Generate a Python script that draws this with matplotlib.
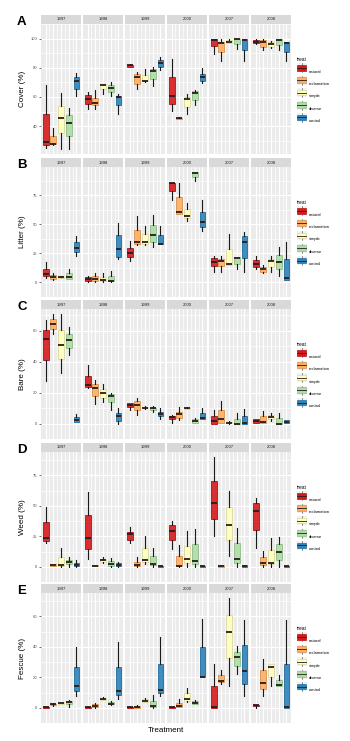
import matplotlib.pyplot as plt
from matplotlib.patches import Patch, Rectangle
from matplotlib.lines import Line2D
from matplotlib.legend_handler import HandlerBase
from matplotlib.colors import to_rgb
import numpy as np

plt.rcParams['font.family'] = ['Liberation Sans', 'DejaVu Sans']

years = ['1997', '1998', '1999', '2000', '2007', '2008']
treats = ['natural', 'reclamation', 'simple', 'diverse', 'control']
colors = ['#d7191c', '#fdae61', '#ffffbf', '#abdda4', '#2b83ba']

# each year: five treatments, each [whisker low, q1, median, q3, whisker high]
cover = [
    [[25, 27, 29, 48, 68], [27, 27.5, 28, 33, 38.5], [24.7, 35, 45.5, 54, 63], [24.7, 33.6, 42.3, 47.4, 52.7], [60.8, 65.7, 71, 74, 76.3]],
    [[52, 55.5, 58.9, 61.4, 63.5], [52, 54.2, 56, 59.5, 65], [62.3, 65.4, 68.2, 68.8, 68.8], [60.8, 63.5, 66.3, 68, 70], [48, 54.2, 59.7, 61, 62.3]],
    [[80.3, 80.8, 81.6, 82.2, 82.6], [65.4, 68.8, 73.5, 75.6, 77.3], [70.3, 70.7, 70.7, 74.8, 79.2], [67.8, 72.4, 77.5, 79.2, 80.3], [78.2, 80.5, 83, 85.2, 87.3]],
    [[50.2, 55.5, 60.8, 73.5, 86.2], [44.8, 45, 45.3, 45.7, 46], [48, 53.4, 58.7, 59.7, 61.8], [54.4, 58.2, 62.9, 64, 65], [69.3, 70.7, 73.5, 76, 79.9]],
    [[89.4, 94.7, 99, 100, 100], [84.5, 90.5, 96.8, 97.9, 100], [96.8, 97.2, 98, 99, 99.6], [93.2, 96.4, 99.4, 100, 100], [84.5, 92, 98.7, 99.4, 100]],
    [[96.6, 97, 98, 99, 99.4], [92, 94.5, 97.9, 98.7, 100], [93.6, 94.5, 96.2, 97.7, 98.5], [92, 95.8, 99.2, 99.8, 100], [84.5, 90.9, 97, 97.9, 97.9]],
]

litter = [
    [[4, 5.4, 7.3, 12, 17.3], [2, 3.3, 4.9, 6.2, 8], [3.6, 3.8, 4.5, 4.9, 5.2], [2.8, 3.3, 4.6, 8, 12], [23.1, 26.6, 29.8, 34.5, 39.8]],
    [[0.5, 1.5, 3.3, 4.6, 6], [0.5, 1.5, 3, 5.4, 8], [0.3, 1, 2, 4.9, 8], [0, 1, 1.5, 6, 9.9], [20, 22, 29.2, 40.6, 51.2]],
    [[18.7, 22, 25.3, 30, 35.8], [32.4, 33.2, 34.5, 45.6, 57], [31.9, 33.2, 34.5, 41.7, 49], [31, 35.3, 40.6, 49.6, 58.3], [33.2, 33.2, 33.2, 41, 48.5]],
    [[71, 79, 86.1, 86.1, 86.1], [59.1, 59.1, 61, 73.4, 86.1], [53, 55.7, 57, 63.4, 68.9], [87.4, 90.9, 94.6, 94.8, 94.8], [44.3, 47.8, 52.2, 61, 70.8]],
    [[9.4, 14.2, 17.9, 20.8, 22.6], [9.4, 13.9, 18.4, 20.5, 22.6], [15.5, 15.5, 16, 29, 42], [11.5, 16, 21.3, 21.8, 21.8], [9.4, 21.3, 35.3, 39.8, 43.8]],
    [[11.5, 13.4, 16, 19.4, 22.6], [8.6, 9.4, 12, 13.4, 15.2], [9.4, 13.4, 18.7, 20, 22.6], [5.4, 11.5, 17.3, 24, 30.6], [2, 2.5, 3.5, 20, 35.3]],
]

bare = [
    [[27.2, 40.8, 54.3, 60.6, 66.6], [57.5, 61, 64, 67.4, 70.4], [32.8, 41.9, 50.9, 60.6, 70.4], [44.3, 48.9, 53.9, 58, 62.6], [1.2, 1.2, 2, 4, 6]],
    [[22.7, 23.3, 24.7, 30.8, 37.8], [12.7, 17.7, 22.9, 25.4, 27.8], [14.1, 16.7, 19.7, 22.5, 25.4], [8.7, 13.7, 17.7, 19.1, 19.7], [0, 1.6, 4.6, 6.6, 9.7]],
    [[9, 10.7, 12, 13, 13.3], [5.6, 8.7, 12, 14.3, 16.7], [9.5, 9.7, 10.3, 10.9, 11.2], [7.6, 8.7, 9.7, 10.3, 11], [2.6, 4.6, 6, 7.6, 9.7]],
    [[0.6, 3, 4.2, 5, 5.2], [2, 3.6, 6, 7.6, 10.7], [9.2, 9.3, 9.7, 10.3, 10.5], [0.6, 0.6, 1.6, 2.6, 3.6], [3.2, 3.2, 3.6, 6.6, 9.7]],
    [[0, 0, 1.6, 4.6, 8.7], [0.6, 0.6, 3.2, 8.7, 14.7], [0, 0.2, 0.6, 1.2, 1.4], [0, 0, 0, 3.2, 6.6], [0, 0, 0.6, 5, 9.3]],
    [[0.6, 0.6, 1.6, 2.6, 3.2], [0.6, 0.6, 1.2, 4.6, 8], [1.6, 2.6, 4, 5.2, 6.6], [0, 0, 0, 3.6, 6.6], [0.6, 0.6, 1.2, 2, 2]],
]

weed = [
    [[19.7, 21.3, 23.8, 36.5, 48.9], [0.8, 0.8, 1.5, 2.3, 2.5], [0, 1, 1.5, 8.4, 15.4], [0, 2, 4, 5.8, 7.8], [0, 0.3, 1.5, 2.8, 5.3]],
    [[6.6, 14.2, 23.8, 42.8, 61], [0.3, 0.3, 1, 1.5, 1.5], [2.8, 3.5, 5.3, 6.6, 8.4], [0, 1, 2, 4.6, 7.3], [0, 0.3, 1.5, 2.8, 4]],
    [[19.2, 22.3, 26.8, 28.9, 32.4], [0, 0.8, 1.5, 4, 7.8], [2, 3.5, 5.3, 15.4, 25.6], [0, 1.5, 2.3, 8.6, 15.4], [0, 0, 0.3, 0.8, 0.8]],
    [[14.7, 22.3, 29.4, 34, 37.5], [0, 0.3, 0.5, 9.1, 18], [0, 2.8, 6, 17.2, 29.4], [0, 2.3, 5, 18.5, 30.6], [0, 0, 0.3, 0.6, 0.6]],
    [[25.6, 39, 52.2, 70.6, 89.6], [0, 0, 0.8, 1.3, 1.3], [8.6, 21.8, 34.4, 48.9, 62.3], [0, 2.8, 6.6, 19.2, 31.9], [0, 0, 0.6, 1.3, 1.3]],
    [[15.4, 30.1, 45.8, 52.2, 56.7], [0, 1.5, 2.8, 7.8, 12.9], [0, 2, 2.8, 13.7, 23.5], [0, 5.8, 12.4, 18.5, 24.3], [0, 0, 0.6, 1, 1]],
]

fescue = [
    [[0, 0, 0.2, 0.4, 0.4], [1.2, 1.6, 2.2, 2.6, 3], [2.2, 2.6, 3.3, 3.9, 4.1], [0.6, 2.2, 3.9, 4.7, 5.3], [7.7, 10.8, 14.4, 27, 39.8]],
    [[0, 0, 0.2, 0.4, 0.4], [0, 0.2, 1, 2.2, 3], [5.1, 5.1, 5.9, 6.7, 7.1], [2, 2.2, 2.6, 3.7, 4.3], [5.7, 8.3, 11.2, 27, 43.3]],
    [[0, 0, 0.2, 0.4, 0.4], [0, 0, 0.4, 1, 1.6], [3.7, 3.9, 4.7, 5.7, 6.7], [0, 0.6, 1.2, 4.7, 8.3], [7.7, 9.8, 11.8, 29, 46.3]],
    [[0, 0, 0.2, 0.4, 0.4], [0.6, 0.6, 1.2, 3.3, 5.7], [3.7, 4.7, 5.7, 9.8, 12.8], [2.2, 2.6, 3.3, 4.7, 5], [20.5, 20.5, 20.5, 39.6, 58.5]],
    [[0, 0, 0.2, 14.2, 28.5], [15.9, 16.9, 17.5, 21.5, 25], [14.4, 32.7, 50, 60.6, 71.7], [22, 27.6, 33.5, 36.6, 40.2], [7.7, 15.9, 23.8, 40.9, 57.5]],
    [[0, 1, 1.6, 2, 2], [7.7, 12.2, 16.5, 24.6, 32.1], [14.2, 20.3, 27, 28.5, 29], [14.2, 14.2, 15.2, 18.3, 21.5], [0, 0, 0.2, 29, 57.5]],
]

rows = [
    ('A', 'Cover (%)', cover, [40, 60, 80, 100]),
    ('B', 'Litter (%)', litter, [0, 25, 50, 75]),
    ('C', 'Bare (%)', bare, [0, 20, 40, 60]),
    ('D', 'Weed (%)', weed, [0, 25, 50, 75]),
    ('E', 'Fescue (%)', fescue, [0, 20, 40, 60]),
]

W, H = 350, 741
fig = plt.figure(figsize=(3.5, 7.41), dpi=100)


def px(x, y, w, h):
    return [x / W, 1 - (y + h) / H, w / W, h / H]


def darker(c, f=0.75):
    return tuple(v * f for v in to_rgb(c))


class BoxKey(HandlerBase):
    # ggplot style boxplot key: whisker, box, median
    def create_artists(self, legend, orig, xd, yd, width, height, fontsize, trans):
        cx = xd + width / 2
        bg = Rectangle((xd, yd - 1), width, height + 2, facecolor='#f2f2f2', edgecolor='none',
                       transform=trans)
        wh = Line2D([cx, cx], [yd - 1, yd + height + 1], color='#333333', lw=0.4, transform=trans)
        box = Rectangle((xd + 0.3, yd + height * 0.05), width - 0.6, height * 0.9,
                        facecolor=orig.get_facecolor(), edgecolor=orig.get_edgecolor(),
                        lw=0.5, transform=trans)
        med = Line2D([xd + 0.3, xd + width - 0.3], [yd + height / 2] * 2, color='#2a1a1a',
                     lw=0.6, transform=trans)
        return [bg, wh, box, med]


facet_x = [41, 83, 125, 167, 209, 251]
fw = 40
row_top = [24, 167, 309, 452, 593]
ph = 130
sh = 9

for r, (letter, label, data, ticks) in enumerate(rows):
    arr = np.array(data)
    lo, hi = arr.min(), arr.max()
    pad = 0.05 * (hi - lo)
    step = ticks[1] - ticks[0]
    minor = [t - step / 2 for t in ticks] + [ticks[-1] + step / 2]
    for j, yr in enumerate(years):
        ax = fig.add_axes(px(facet_x[j], row_top[r], fw, ph))
        ax.set_facecolor('#ebebeb')
        ax.set_axisbelow(True)
        for s in ax.spines.values():
            s.set_visible(False)
        stats = [dict(whislo=s[0], q1=s[1], med=s[2], q3=s[3], whishi=s[4], fliers=[])
                 for s in data[j]]
        bp = ax.bxp(stats, positions=range(1, 6), widths=0.75, patch_artist=True,
                    showcaps=False, showfliers=False,
                    whiskerprops=dict(color='#1a1a1a', lw=0.8),
                    medianprops=dict(color='#2a1a1a', lw=1.3, solid_capstyle='butt'))
        for patch, c in zip(bp['boxes'], colors):
            patch.set_facecolor(c)
            patch.set_edgecolor(darker(c, 0.85))
            patch.set_linewidth(0.7)
            patch.set_alpha(0.9)
        ax.set_xlim(0.4, 5.6)
        ax.set_ylim(lo - pad, hi + pad)
        ax.set_yticks(ticks)
        ax.set_yticks(minor, minor=True)
        ax.set_xticks(range(1, 6))
        ax.set_xticks(np.arange(1.5, 5, 1), minor=True)
        ax.grid(which='major', color='white', lw=0.8)
        ax.grid(which='minor', color='white', lw=0.5)
        ax.tick_params(axis='x', which='both', length=0, labelbottom=False)
        if j == 0:
            ax.tick_params(axis='y', which='major', length=1.5, width=0.5, color='#333333',
                           labelsize=3, labelcolor='#4d4d4d', pad=1)
            ax.tick_params(axis='y', which='minor', length=0)
        else:
            ax.tick_params(axis='y', which='both', length=0, labelleft=False)

        sax = fig.add_axes(px(facet_x[j], row_top[r] - sh, fw, sh))
        sax.set_facecolor('#d9d9d9')
        sax.set_xticks([])
        sax.set_yticks([])
        for s in sax.spines.values():
            s.set_visible(False)
        sax.text(0.5, 0.5, yr, ha='center', va='center', fontsize=3, color='#1a1a1a',
                 transform=sax.transAxes)

    yc = row_top[r] + ph / 2
    fig.text(23 / W, 1 - yc / H, label, rotation=90, ha='center', va='center', fontsize=5.8)
    fig.text(17 / W, 1 - (row_top[r] - 2) / H, letter, ha='left', va='center',
             fontsize=9.5, fontweight='bold')

    handles = [Patch(facecolor=c, edgecolor=darker(c, 0.85), lw=0.6) for c in colors]
    fig.legend(handles, treats, title='treat', loc='upper left',
               bbox_to_anchor=(297 / W, 1 - (row_top[r] + 33) / H),
               frameon=False, fontsize=3, title_fontsize=3.5,
               handlelength=2.3, handleheight=1.9, labelspacing=1.5,
               handletextpad=0.6, borderpad=0, borderaxespad=0,
               alignment='left', handler_map={Patch: BoxKey()})

fig.text(166 / W, 1 - 730 / H, 'Treatment', ha='center', va='center', fontsize=5.8)

fig.savefig('out.png', dpi=100)
